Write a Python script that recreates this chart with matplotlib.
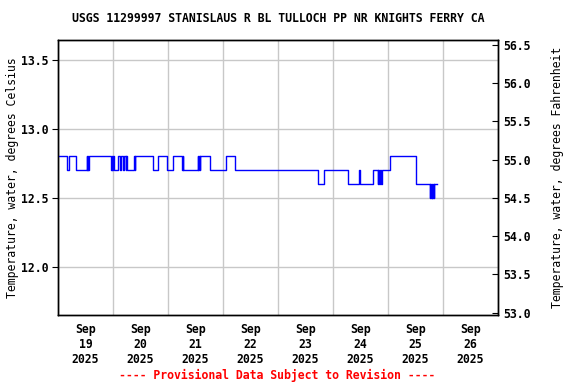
import numpy as np
import pandas as pd
import matplotlib
matplotlib.use("Agg")
import matplotlib.pyplot as plt
import matplotlib.dates as mdates
from matplotlib.ticker import FixedLocator, FormatStrFormatter

# change points: hours after 2025-09-19 00:00 and water temperature (deg C)
hours = [0, 4.0, 4.75, 7.75, 12.5, 12.75, 13.0, 13.25, 13.5,
         23.0, 23.5, 23.75, 24.0, 24.25, 26.0, 27.0, 27.5, 28.5, 29.0,
         29.5, 29.75, 30.25, 33.25, 33.5, 33.75, 41.5, 43.5, 47.5, 50.25,
         54.25, 54.5, 54.75, 61.0, 61.25, 61.5, 61.75, 62.0, 66.25, 73.5,
         77.25, 113.5, 116.25, 126.75, 131.5, 131.75, 137.25, 139.5, 139.75,
         140.25, 140.5, 141.0, 141.25, 144.75, 156.0, 156.25, 162.25, 162.5,
         162.75, 163.0, 163.25, 163.5, 164.0, 164.25, 165.25]
temps = [12.8, 12.7, 12.8, 12.7, 12.8, 12.7, 12.8, 12.7, 12.8,
         12.7, 12.8, 12.7, 12.8, 12.7, 12.8, 12.7, 12.8, 12.7, 12.8,
         12.7, 12.8, 12.7, 12.8, 12.7, 12.8, 12.7, 12.8, 12.7, 12.8,
         12.7, 12.8, 12.7, 12.8, 12.7, 12.8, 12.7, 12.8, 12.7, 12.8,
         12.7, 12.6, 12.7, 12.6, 12.7, 12.6, 12.7, 12.6, 12.7,
         12.6, 12.7, 12.6, 12.7, 12.8, 12.7, 12.6, 12.5, 12.6,
         12.5, 12.6, 12.5, 12.6, 12.5, 12.6, 12.6]

title = "USGS 11299997 STANISLAUS R BL TULLOCH PP NR KNIGHTS FERRY CA"
footer = "---- Provisional Data Subject to Revision ----"
left_ticks = [12.0, 12.5, 13.0, 13.5]
right_ticks = [53.0, 53.5, 54.0, 54.5, 55.0, 55.5, 56.0, 56.5]

start = pd.Timestamp("2025-09-19")
times = start + pd.to_timedelta(hours, unit="h")

plt.rcParams['font.family'] = 'DejaVu Sans Mono'
plt.rcParams['font.weight'] = 'bold'
plt.rcParams['font.size'] = 8.3

fig = plt.figure(figsize=(5.76, 3.84), dpi=100)
ax = fig.add_axes([58 / 576, 1 - 315 / 384, 440 / 576, 275 / 384])

ax.plot(times, temps, drawstyle='steps-post', color='#0000ff', lw=1.0, zorder=3)

ylo, yhi = 11.65, 13.645
ax.set_ylim(ylo, yhi)
ax.set_xlim(start, start + pd.Timedelta(days=8))

days = pd.date_range(start, periods=9, freq='D')
noons = pd.date_range(start + pd.Timedelta(hours=12), periods=8, freq='D')
ax.xaxis.set_major_locator(FixedLocator(mdates.date2num(days)))
ax.xaxis.set_minor_locator(FixedLocator(mdates.date2num(noons)))
ax.set_xticklabels([])
ax.set_xticklabels([d.strftime('%b\n%d\n%Y') for d in noons], minor=True)
ax.tick_params(axis='x', which='both', length=0, pad=6)
ax.grid(True, which='major', axis='x', color='#c8c8c8', lw=1.0)

ax.set_yticks(left_ticks)
ax.yaxis.set_major_formatter(FormatStrFormatter('%.1f'))
ax.grid(True, which='major', axis='y', color='#c8c8c8', lw=1.0)
ax.tick_params(axis='y', length=4, direction='out', pad=2.5)
ax.set_ylabel("Temperature, water, degrees Celsius", labelpad=2)

ax2 = ax.twinx()
ax2.set_ylim(ylo * 9 / 5 + 32, yhi * 9 / 5 + 32)
ax2.set_yticks(right_ticks)
ax2.yaxis.set_major_formatter(FormatStrFormatter('%.1f'))
ax2.tick_params(axis='y', length=4, direction='in')
ax2.set_ylabel("Temperature, water, degrees Fahrenheit", labelpad=15)

for a in (ax, ax2):
    for s in a.spines.values():
        s.set_linewidth(1.0)

fig.text(0.5 * (68 + 488) / 576, 1 - 19 / 384, title, ha='center', va='center')
fig.text(0.5 * (116 + 438) / 576, 1 - 375 / 384, footer, ha='center', va='center',
         color='red')

fig.savefig("out.png", dpi=100)
